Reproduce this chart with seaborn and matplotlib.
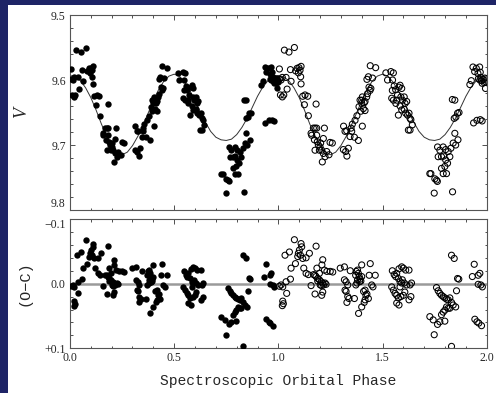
import numpy as np
import pandas as pd
import matplotlib
matplotlib.use('Agg')
import matplotlib.pyplot as plt
from matplotlib.patches import Rectangle
from matplotlib.ticker import MultipleLocator, FixedLocator
import seaborn as sns

# observed V light curve, phase 0-1 (filled points)
v_phase = [0.005, 0.005, 0.013, 0.019, 0.037, 0.010, 0.019, 0.026, 0.042, 0.061, 0.058,
           0.029, 0.051, 0.077, 0.083, 0.090, 0.099, 0.109, 0.104, 0.096, 0.107, 0.109,
           0.117, 0.128, 0.141, 0.125, 0.144, 0.181,
           0.157, 0.168, 0.176, 0.184, 0.160, 0.173, 0.187, 0.192, 0.200, 0.208, 0.216,
           0.224, 0.211, 0.232, 0.243, 0.216, 0.221, 0.184, 0.176, 0.197, 0.203, 0.248, 0.259,
           0.313, 0.320, 0.328, 0.312, 0.323, 0.329, 0.336, 0.349, 0.355, 0.352, 0.344,
           0.365, 0.384, 0.368, 0.377, 0.387, 0.400, 0.403, 0.396, 0.408, 0.416, 0.424,
           0.428, 0.435, 0.440, 0.444, 0.432, 0.425, 0.416, 0.412, 0.392, 0.400, 0.403,
           0.441, 0.467, 0.452,
           0.516, 0.524, 0.540, 0.552, 0.548, 0.556, 0.563, 0.547, 0.544, 0.552, 0.568,
           0.572, 0.579, 0.584, 0.592, 0.588, 0.596, 0.604, 0.608, 0.616, 0.584, 0.592,
           0.604, 0.611, 0.620, 0.627, 0.632, 0.636, 0.624, 0.632, 0.643, 0.576, 0.564,
           0.732, 0.751, 0.763, 0.748, 0.836, 0.764, 0.775, 0.791, 0.803, 0.815, 0.828,
           0.839, 0.851, 0.767, 0.783, 0.793, 0.803, 0.812, 0.799, 0.791, 0.807, 0.783,
           0.823, 0.847, 0.844, 0.852, 0.860, 0.727, 0.759,
           0.835, 0.847, 0.867, 0.862, 0.919, 0.926, 0.934, 0.942, 0.950, 0.958, 0.966,
           0.969, 0.937, 0.953, 0.969, 0.978, 0.967, 0.975, 0.983, 0.991, 0.999, 0.978,
           0.988, 0.996, 0.994, 0.960, 0.972]
v_mag = [9.583, 9.599, 9.600, 9.596, 9.596, 9.623, 9.626, 9.623, 9.614, 9.602, 9.584,
         9.554, 9.557, 9.550, 9.586, 9.582, 9.581, 9.579, 9.585, 9.589, 9.595, 9.606,
         9.625, 9.623, 9.625, 9.638, 9.655, 9.637,
         9.682, 9.674, 9.674, 9.674, 9.685, 9.692, 9.695, 9.700, 9.703, 9.708, 9.713,
         9.718, 9.726, 9.710, 9.715, 9.690, 9.674, 9.685, 9.708, 9.708, 9.697, 9.696, 9.697,
         9.671, 9.679, 9.678, 9.707, 9.710, 9.717, 9.705, 9.674, 9.668, 9.679, 9.687,
         9.688, 9.693, 9.662, 9.655, 9.641, 9.631, 9.626, 9.648, 9.644, 9.633, 9.626,
         9.621, 9.611, 9.616, 9.613, 9.595, 9.599, 9.647, 9.635, 9.631, 9.636, 9.671,
         9.578, 9.581, 9.597,
         9.589, 9.600, 9.587, 9.589, 9.600, 9.609, 9.615, 9.616, 9.628, 9.631, 9.631,
         9.623, 9.611, 9.608, 9.613, 9.626, 9.631, 9.626, 9.636, 9.633, 9.640, 9.646,
         9.645, 9.651, 9.654, 9.651, 9.659, 9.661, 9.677, 9.677, 9.669, 9.654, 9.636,
         9.744, 9.752, 9.756, 9.774, 9.772, 9.703, 9.708, 9.703, 9.707, 9.710, 9.705,
         9.697, 9.700, 9.718, 9.718, 9.717, 9.723, 9.728, 9.733, 9.744, 9.744, 9.736,
         9.718, 9.682, 9.659, 9.657, 9.651, 9.744, 9.754,
         9.630, 9.631, 9.650, 9.692, 9.607, 9.601, 9.580, 9.587, 9.582, 9.590, 9.580,
         9.588, 9.666, 9.662, 9.661, 9.663, 9.600, 9.601, 9.599, 9.597, 9.600, 9.605,
         9.604, 9.603, 9.613, 9.598, 9.596]

# fitted orbital model, one cycle
model_phase = np.linspace(0.0, 1.0, 41)
model_mag = [9.593, 9.595, 9.601, 9.612, 9.627, 9.646, 9.667, 9.686, 9.700, 9.711,
             9.715, 9.711, 9.701, 9.687, 9.670, 9.651, 9.632, 9.615, 9.602, 9.594,
             9.591, 9.594, 9.603, 9.616, 9.632, 9.649, 9.665, 9.679, 9.688, 9.692,
             9.693, 9.691, 9.684, 9.673, 9.659, 9.642, 9.625, 9.611, 9.601, 9.595,
             9.593]

# residuals O-C, phase 0-1
oc_phase = [0.005, 0.013, 0.021, 0.021, 0.024, 0.019, 0.040, 0.032, 0.053, 0.077, 0.061,
            0.037, 0.058, 0.082, 0.096, 0.101, 0.106, 0.109, 0.112, 0.093, 0.117, 0.122,
            0.133, 0.144, 0.133, 0.149, 0.181, 0.157, 0.169, 0.176, 0.181, 0.189, 0.197,
            0.205, 0.213, 0.217, 0.224, 0.229, 0.201, 0.208, 0.189, 0.176, 0.208, 0.213,
            0.185, 0.197, 0.209, 0.213, 0.221, 0.233, 0.249, 0.261,
            0.297, 0.317, 0.317, 0.325, 0.333, 0.320, 0.325, 0.333, 0.339, 0.329, 0.345,
            0.365, 0.371, 0.374, 0.380, 0.384, 0.388, 0.393, 0.390, 0.400, 0.380, 0.377,
            0.372, 0.396, 0.400, 0.385, 0.400, 0.409, 0.416, 0.420, 0.425, 0.432, 0.441,
            0.436, 0.448, 0.454, 0.465, 0.412, 0.416,
            0.547, 0.556, 0.568, 0.579, 0.592, 0.600, 0.611, 0.627, 0.563, 0.576, 0.584,
            0.595, 0.604, 0.616, 0.632, 0.639, 0.544, 0.552, 0.560, 0.568, 0.576, 0.588,
            0.600, 0.607, 0.579, 0.568, 0.627, 0.636, 0.592, 0.584,
            0.759, 0.767, 0.775, 0.783, 0.791, 0.799, 0.807, 0.815, 0.823, 0.831, 0.807,
            0.815, 0.799, 0.791, 0.783, 0.823, 0.839, 0.851, 0.855, 0.860, 0.866, 0.831,
            0.844, 0.727, 0.743, 0.764, 0.775, 0.799, 0.748, 0.831,
            0.940, 0.931, 0.959, 0.967, 0.972, 0.979, 0.959, 0.943, 0.953, 0.962, 0.975]
oc_val = [0.004, 0.002, 0.005, 0.027, 0.031, 0.034, 0.015, -0.044, -0.049, -0.068, -0.024,
          -0.003, -0.007, -0.031, -0.047, -0.052, -0.044, -0.062, -0.057, -0.042, -0.039, -0.024,
          -0.016, -0.014, -0.040, -0.047, -0.058, 0.003, -0.014, -0.013, -0.011, -0.008, -0.006,
          -0.003, -0.001, 0.002, -0.001, 0.001, 0.002, 0.003, -0.004, 0.016, 0.018, 0.013,
          -0.024, -0.016, -0.029, -0.037, -0.021, -0.019, -0.019, -0.018,
          -0.024, -0.026, -0.006, -0.003, 0.002, 0.010, 0.012, 0.020, 0.023, 0.029, -0.020,
          0.023, -0.013, -0.019, -0.021, -0.016, -0.011, -0.007, -0.003, -0.011, -0.006, -0.001,
          0.002, -0.004, -0.029, 0.046, 0.036, 0.012, 0.010, 0.018, 0.016, 0.023, -0.031,
          -0.013, 0.002, 0.005, -0.013, 0.029, 0.025,
          -0.020, -0.014, -0.016, -0.023, -0.026, -0.024, -0.021, -0.021, -0.011, -0.008, -0.003,
          -0.006, -0.001, 0.002, 0.002, -0.001, 0.005, 0.010, 0.015, 0.018, 0.022, 0.020,
          0.018, 0.013, 0.033, 0.030, 0.025, 0.020, -0.001, 0.005,
          0.006, 0.011, 0.015, 0.018, 0.020, 0.022, 0.024, 0.025, 0.022, 0.029, 0.036,
          0.038, 0.041, 0.044, 0.048, 0.038, 0.033, 0.036, 0.011, -0.008, -0.007, -0.044,
          -0.039, 0.051, 0.056, 0.063, 0.059, 0.058, 0.079, 0.097,
          -0.030, -0.011, -0.013, -0.016, 0.002, 0.005, 0.001, 0.055, 0.059, 0.061, 0.065]

x_ticks = [0.0, 0.5, 1.0, 1.5, 2.0]
x_labels = ['0.0', '0.5', '1.0', '1.5', '2.0']
v_ticks = [9.5, 9.6, 9.7, 9.8]
v_labels = ['9.5', '9.6', '9.7', '9.8']
oc_ticks = [-0.1, 0.0, 0.1]
oc_labels = ['\u22120.1', '0.0', '+0.1']

sns.set_style('ticks')
plt.rcParams['font.family'] = ['Liberation Serif', 'DejaVu Serif']
mono = ['Liberation Mono', 'DejaVu Sans Mono']

v_df = pd.DataFrame({'phase': v_phase, 'V': v_mag})
v_df2 = v_df.assign(phase=v_df['phase'] + 1)
oc_df = pd.DataFrame({'phase': oc_phase, 'oc': oc_val})
oc_df2 = oc_df.assign(phase=oc_df['phase'] + 1)
model_df = pd.DataFrame({'phase': np.concatenate([model_phase, model_phase[1:] + 1]),
                         'V': np.concatenate([model_mag, model_mag[1:]])})

fig = plt.figure(figsize=(4.96, 3.93), dpi=100)
fig.patch.set_facecolor('#1e2466')
panel = Rectangle((8 / 496, 0), 1 - 8 / 496, 388 / 393, transform=fig.transFigure,
                  facecolor='white', edgecolor='none', zorder=-10)
fig.add_artist(panel)

ax1 = fig.add_axes([0.1411, 0.4656, 0.8402, 0.4962])
ax2 = fig.add_axes([0.1411, 0.1137, 0.8402, 0.3290])

sns.lineplot(data=model_df, x='phase', y='V', ax=ax1, color='#333333', lw=0.7, zorder=2)
sns.scatterplot(data=v_df, x='phase', y='V', ax=ax1, color='black', s=21, linewidth=0, zorder=3)
sns.scatterplot(data=v_df2, x='phase', y='V', ax=ax1, facecolor='none', edgecolor='black',
                s=19, linewidth=0.75, zorder=3)

ax2.axhline(0, color='#9a9a9a', lw=1.8, zorder=1)
sns.scatterplot(data=oc_df, x='phase', y='oc', ax=ax2, color='black', s=21, linewidth=0, zorder=3)
sns.scatterplot(data=oc_df2, x='phase', y='oc', ax=ax2, facecolor='none', edgecolor='black',
                s=19, linewidth=0.75, zorder=3)

for ax in (ax1, ax2):
    ax.set_xlim(0, 2)
    ax.xaxis.set_major_locator(FixedLocator(x_ticks))
    ax.xaxis.set_minor_locator(MultipleLocator(0.1))
    ax.tick_params(which='both', direction='in', top=True, right=True, labelsize=8.5,
                   color='#333333', width=0.6, pad=3)
    ax.tick_params(which='major', length=3.6)
    ax.tick_params(which='minor', length=1.8)
    for sp in ax.spines.values():
        sp.set_visible(True)
        sp.set_color('#555555')
        sp.set_linewidth(0.8)
    ax.set_facecolor('white')

ax1.set_ylim(9.8, 9.5)
ax1.set_yticks(v_ticks)
ax1.set_yticklabels(v_labels)
ax1.yaxis.set_minor_locator(MultipleLocator(0.02))
ax1.set_xticklabels([])
ax1.set_xlabel('')
ax1.set_ylabel('V', fontsize=13, fontstyle='italic', labelpad=15)
# keep the 9.8 and -0.1 labels apart at the panel join
ax1.get_yticklabels()[-1].set_va('bottom')

ax2.set_ylim(0.1, -0.1)
ax2.set_yticks(oc_ticks)
ax2.set_yticklabels(oc_labels)
ax2.get_yticklabels()[0].set_va('top')
ax2.yaxis.set_minor_locator(MultipleLocator(0.02))
ax2.set_xticks(x_ticks)
ax2.set_xticklabels(x_labels)
ax2.set_ylabel('(O\u2212C)', fontsize=11, family=mono, labelpad=9)
ax2.set_xlabel('Spectroscopic Orbital Phase', fontsize=10.5, family=mono, labelpad=7)

fig.savefig('out.png', dpi=100, facecolor=fig.get_facecolor())
